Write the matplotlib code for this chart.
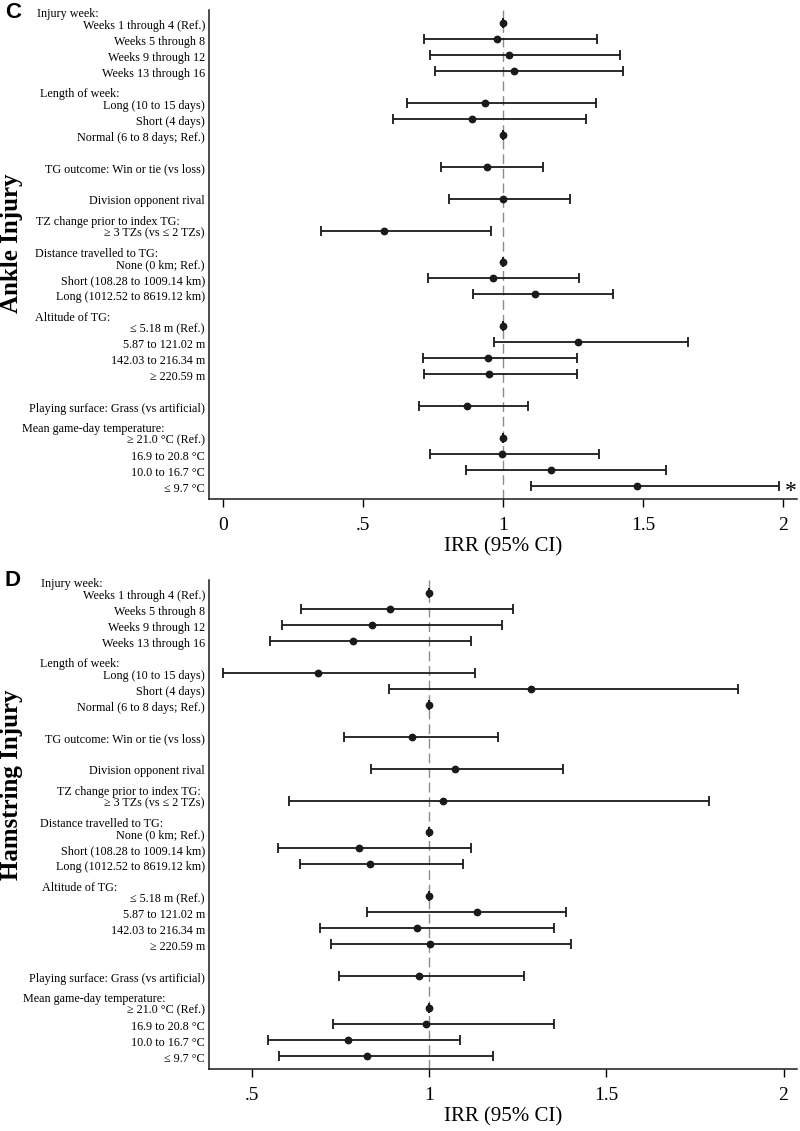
import numpy as np
import matplotlib
matplotlib.use("Agg")
import matplotlib.pyplot as plt
from matplotlib.transforms import blended_transform_factory

plt.rcParams['font.family'] = ['Liberation Serif', 'DejaVu Serif']

# grupos de variables (cabecera, numero de filas)
group_headers = ["Injury week:", "Length of week:", None, None,
                 "TZ change prior to index TG:", "Distance travelled to TG:",
                 "Altitude of TG:", None, "Mean game-day temperature:"]
group_sizes = [4, 3, 1, 1, 1, 3, 4, 1, 4]

row_labels = [
    "Weeks 1 through 4 (Ref.)", "Weeks 5 through 8", "Weeks 9 through 12", "Weeks 13 through 16",
    "Long (10 to 15 days)", "Short (4 days)", "Normal (6 to 8 days; Ref.)",
    "TG outcome: Win or tie (vs loss)",
    "Division opponent rival",
    "\u2265 3 TZs (vs \u2264 2 TZs)",
    "None (0 km; Ref.)", "Short (108.28 to 1009.14 km)", "Long (1012.52 to 8619.12 km)",
    "\u2264 5.18 m (Ref.)", "5.87 to 121.02 m", "142.03 to 216.34 m", "\u2265 220.59 m",
    "Playing surface: Grass (vs artificial)",
    "\u2265 21.0 \u00b0C (Ref.)", "16.9 to 20.8 \u00b0C", "10.0 to 16.7 \u00b0C", "\u2264 9.7 \u00b0C",
]

# C: lesion de tobillo
ankle_irr = [1.0, 0.980, 1.023, 1.038, 0.936, 0.888, 1.0, 0.944, 1.001, 0.576,
             1.0, 0.965, 1.114, 1.0, 1.267, 0.946, 0.950, 0.870, 1.0, 0.998, 1.170, 1.480]
ankle_lo = [1.0, 0.718, 0.739, 0.756, 0.658, 0.607, 1.0, 0.780, 0.808, 0.349,
            1.0, 0.733, 0.892, 1.0, 0.968, 0.713, 0.718, 0.700, 1.0, 0.739, 0.867, 1.100]
ankle_hi = [1.0, 1.337, 1.419, 1.429, 1.332, 1.295, 1.0, 1.143, 1.239, 0.956,
            1.0, 1.273, 1.394, 1.0, 1.662, 1.263, 1.263, 1.089, 1.0, 1.343, 1.581, 1.986]

# D: lesion de isquiotibiales
ham_irr = [1.0, 0.888, 0.838, 0.784, 0.685, 1.288, 1.0, 0.951, 1.072, 1.040,
           1.0, 0.802, 0.833, 1.0, 1.135, 0.965, 1.003, 0.971, 1.0, 0.991, 0.770, 0.824]
ham_lo = [1.0, 0.638, 0.585, 0.549, 0.418, 0.886, 1.0, 0.758, 0.834, 0.604,
          1.0, 0.572, 0.634, 1.0, 0.823, 0.692, 0.722, 0.746, 1.0, 0.727, 0.545, 0.575]
ham_hi = [1.0, 1.235, 1.206, 1.119, 1.129, 1.871, 1.0, 1.193, 1.377, 1.789,
          1.0, 1.119, 1.095, 1.0, 1.386, 1.353, 1.399, 1.268, 1.0, 1.353, 1.086, 1.180]

ankle_ticks = [0, 0.5, 1, 1.5, 2]
ankle_ticklabels = ["0", ".5", "1", "1.5", "2"]
ham_ticks = [0.5, 1, 1.5, 2]
ham_ticklabels = [".5", "1", "1.5", "2"]

# posiciones de filas y cabeceras
row_pos = []
header_pos = []
pos = -1
for hdr, n in zip(group_headers, group_sizes):
    header_pos.append(pos)
    pos += 1
    row_pos.extend(range(pos, pos + n))
    pos += n
row_pos = np.array(row_pos)

W, H = 800, 1131
fig = plt.figure(figsize=(8, 11.31), dpi=100)


def panel(rect, irr, lo, hi, xlim, ticks, ticklabels, header_x):
    ax = fig.add_axes(rect)
    irr = np.array(irr)
    err = [irr - np.array(lo), np.array(hi) - irr]
    ax.axvline(1, color='#8c8c8c', lw=1.0, dashes=(7, 3.5), zorder=1)
    ax.errorbar(irr, row_pos, xerr=err, fmt='o', color='#1a1a1a', ms=4.6,
                elinewidth=1.3, capsize=3.9, capthick=1.3, zorder=3)
    ax.set_xlim(*xlim)
    ax.set_ylim(29.82, -0.82)
    ax.set_yticks([])
    ax.set_xticks(ticks)
    ax.set_xticklabels(ticklabels, fontsize=14)
    ax.tick_params(axis='x', direction='out', length=6, width=1, pad=7)
    for s in ['top', 'right']:
        ax.spines[s].set_visible(False)
    for s in ['left', 'bottom']:
        ax.spines[s].set_linewidth(1.1)
        ax.spines[s].set_color('#1a1a1a')
    ax.set_xlabel("IRR (95% CI)", fontsize=15, labelpad=2)
    tr = blended_transform_factory(fig.transFigure, ax.transData)
    for lab, y in zip(row_labels, row_pos):
        ax.text(205 / W, y + 0.17, lab, transform=tr, ha='right', va='center',
                fontsize=8.7, clip_on=False)
    hx = iter(header_x)
    for hdr, y in zip(group_headers, header_pos):
        if hdr is None:
            continue
        ax.text(next(hx) / W, y + 0.45, hdr, transform=tr, ha='left', va='center',
                fontsize=8.7, clip_on=False)
    return ax


ax_c = panel([209 / W, 1 - 499 / H, 588 / W, 489 / H], ankle_irr, ankle_lo, ankle_hi,
             (-0.05, 2.05), ankle_ticks, ankle_ticklabels, [37, 40, 36, 35, 35, 22])
ax_d = panel([209 / W, 1 - 1069 / H, 588 / W, 489 / H], ham_irr, ham_lo, ham_hi,
             (0.378, 2.038), ham_ticks, ham_ticklabels, [41, 40, 57, 40, 42, 23])

# asterisco en la ultima fila del panel C
ax_c.annotate("*", xy=(ankle_hi[-1], row_pos[-1]), xytext=(4, -4),
              textcoords='offset points', ha='left', va='center', fontsize=17)

fig.text(13 / W, 1 - 12 / H, "C", fontsize=16, fontweight='bold',
         family='Liberation Sans', ha='center', va='center')
fig.text(13 / W, 1 - 580 / H, "D", fontsize=16, fontweight='bold',
         family='Liberation Sans', ha='center', va='center')
fig.text(12 / W, 1 - 243 / H, "Ankle Injury", fontsize=18, fontweight='bold',
         rotation=90, ha='center', va='center')
fig.text(12 / W, 1 - 785 / H, "Hamstring Injury", fontsize=18, fontweight='bold',
         rotation=90, ha='center', va='center')

fig.savefig("out.png", dpi=100, facecolor='white')
